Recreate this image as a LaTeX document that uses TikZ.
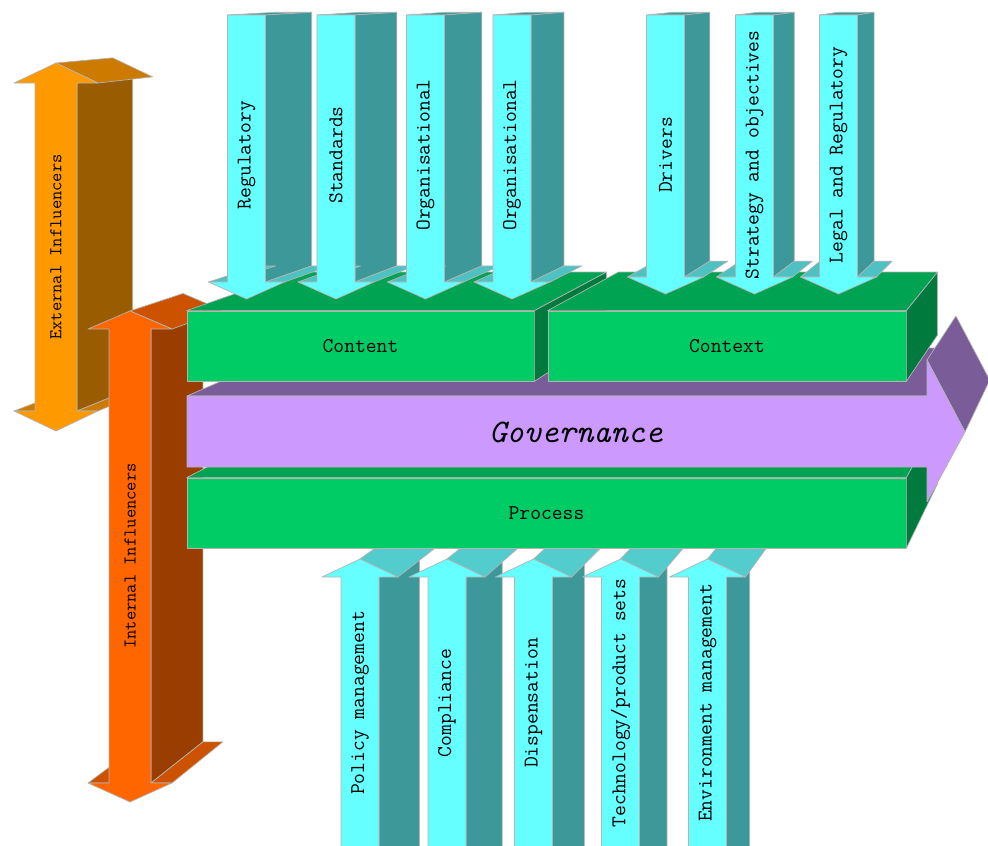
\documentclass[tikz,border=0pt]{standalone}
\usepackage{fontspec}
\usepackage{tikz}
\usetikzlibrary{calc}
\definecolor{cyanfront}{HTML}{66FFFF}
\definecolor{cyanside}{HTML}{3D9999}
\definecolor{cyantop}{HTML}{52CCCC}
\definecolor{greenfront}{HTML}{00CC66}
\definecolor{greentop}{HTML}{00A352}
\definecolor{greenside}{HTML}{007A3D}
\definecolor{govfront}{HTML}{CC99FF}
\definecolor{govtop}{HTML}{7A5C99}
\definecolor{extfront}{HTML}{FF9900}
\definecolor{extside}{HTML}{995C00}
\definecolor{exttop}{HTML}{CC7A00}
\definecolor{intfront}{HTML}{FF6600}
\definecolor{intside}{HTML}{993D00}
\definecolor{inttop}{HTML}{CC5200}
\definecolor{edgegray}{HTML}{B3B3B3}
\def\sw{19}\def\hw{38}\def\ow{21}\def\oh{42}
\def\ka{0.05}\def\kb{0.11}
% cyan arrow pointing down onto Content / Context
\newcommand{\downarr}[5]{%
  \coordinate (A) at ({#1-\sw},15); \coordinate (B) at ({#1+\sw},15);
  \coordinate (C) at ({#1+\sw},#2); \coordinate (D) at ({#1+\hw},#2);
  \coordinate (E) at ({#1-\hw},#2); \coordinate (F) at ({#1-\sw},#2);
  \coordinate (T) at (#1,#3);
  \path[face, fill=cyanside] (A) -- (B) -- ($(B)!\ka!(vp)$) -- ($(A)!\ka!(vp)$) -- cycle;
  \path[face, fill=cyanside] (B) -- (C) -- ($(C)!\ka!(vp)$) -- ($(B)!\ka!(vp)$) -- cycle;
  \path[face, fill=cyantop!80!cyanside] (E) -- (F) -- ($(F)!\ka!(vp)$) -- ($(E)!\ka!(vp)$) -- cycle;
  \path[face, fill=cyantop!80!cyanside] (C) -- (D) -- ($(D)!\ka!(vp)$) -- ($(C)!\ka!(vp)$) -- cycle;
  \path[face, fill=cyanfront] (A) -- (B) -- (C) -- (D) -- (T) -- (E) -- (F) -- cycle;
  \node[lbl, rotate=90] (#4) at (#1,155) {#5};
}
% cyan arrow pointing up into Process
\newcommand{\uparr}[3]{%
  \coordinate (C) at ({#1+\sw},577); \coordinate (G) at ({#1+\sw},900);
  \coordinate (D) at ({#1+\hw},577); \coordinate (T) at (#1,559);
  \path[face, fill=cyanside] (C) -- (G) -- ($(G)!\ka!(vp)$) -- ($(C)!\ka!(vp)$) -- cycle;
  \path[face, fill=cyantop] (T) -- (D) -- ($(D)!\ka!(vp)$) -- ($(T)!\ka!(vp)$) -- cycle;
  \path[face, fill=cyanfront] (T) -- (D) -- (C) -- (G) -- ({#1-\sw},900) -- ({#1-\sw},577)
    -- ({#1-\hw},577) -- cycle;
  \node[lbl, rotate=90] (#2) at (#1,703) {#3};
}
% double headed influencer arrow
\newcommand{\dblarr}[9]{%
  \coordinate (T) at (#1,#2); \coordinate (D) at ({#1+\oh},#3); \coordinate (C) at ({#1+\ow},#3);
  \coordinate (G) at ({#1+\ow},#4); \coordinate (H) at ({#1+\oh},#4);
  \coordinate (E) at ({#1-\oh},#4); \coordinate (F) at ({#1-\ow},#4);
  \path[face, fill=#6top] (E) -- (F) -- ($(F)!\ka!(vp)$) -- ($(E)!\ka!(vp)$) -- cycle;
  \path[face, fill=#6side] (C) -- (G) -- ($(G)!\ka!(vp)$) -- ($(C)!\ka!(vp)$) -- cycle;
  \path[face, fill=#6top] (G) -- (H) -- ($(H)!\ka!(vp)$) -- ($(G)!\ka!(vp)$) -- cycle;
  \path[face, fill=#6top] (T) -- (D) -- ($(D)!\ka!(vp)$) -- ($(T)!\ka!(vp)$) -- cycle;
  \path[face, fill=#6front] (T) -- (D) -- (C) -- (G) -- (H) -- (#1,#5) -- (E) -- (F)
    -- ({#1-\ow},#3) -- ({#1-\oh},#3) -- cycle;
  \node[inflbl, rotate=90] (#7) at (#1,#9) {#8};
}
% top and side of a green box
\newcommand{\boxfaces}[1]{%
  \path[face, fill=greentop] (#1.north west) -- (#1.north east) -- ($(#1.north east)!\kb!(vp)$)
    -- ($(#1.north west)!\kb!(vp)$) -- cycle;
  \path[face, fill=greenside] (#1.north east) -- (#1.south east) -- ($(#1.south east)!\kb!(vp)$)
    -- ($(#1.north east)!\kb!(vp)$) -- cycle;
}
\begin{document}
\begin{tikzpicture}[x=1pt, y=-1pt,
  face/.style={draw=edgegray, line width=0.7pt, line join=round},
  lbl/.style={font=\ttfamily\fontsize{21}{24}\selectfont, inner sep=0},
  inflbl/.style={font=\ttfamily\fontsize{18}{21}\selectfont, inner sep=0},
  boxfront/.style={face, fill=greenfront, inner sep=0, minimum height=70pt,
    font=\ttfamily\fontsize{21}{24}\selectfont},
]
  \useasboundingbox (0,0) rectangle (988,846);
  \clip (0,0) rectangle (988,846);
  \coordinate (vp) at (1190,-40);

  \dblarr{56}{63}{83}{411}{431}{ext}{ext}{External Influencers}{247}
  \dblarr{130}{311}{329}{783}{802}{int}{int}{Internal Influencers}{556}

  \uparr{360}{pol}{Policy management}
  \uparr{447}{comp}{Compliance}
  \uparr{533.5}{disp}{Dispensation}
  \uparr{620.5}{tech}{Technology/product sets}
  \uparr{707.5}{env}{Environment management}

  \node[boxfront, minimum width=719pt] (process) at (546.5,513) {Process};
  \boxfaces{process}

  \coordinate (g1) at (187,396); \coordinate (g2) at (927,396); \coordinate (g3) at (927,360);
  \coordinate (g4) at (965,432); \coordinate (g5) at (927,502); \coordinate (g6) at (927,467);
  \coordinate (g7) at (187,467);
  \path[face, fill=govtop] (g1) -- (g2) -- ($(g2)!\kb!(vp)$) -- ($(g1)!\kb!(vp)$) -- cycle;
  \path[face, fill=govtop] (g3) -- (g4) -- ($(g4)!\kb!(vp)$) -- ($(g3)!\kb!(vp)$) -- cycle;
  \path[face, fill=govfront] (g1) -- (g2) -- (g3) -- (g4) -- (g5) -- (g6) -- (g7) -- cycle;
  \node[font=\ttfamily\itshape\fontsize{33}{38}\selectfont, inner sep=0] (gov) at (576,432) {Governance};

  \node[boxfront, minimum width=347pt] (content) at (360.5,346) {Content};
  \boxfaces{content}
  \node[boxfront, minimum width=358pt] (context) at (727,346) {Context};
  \boxfaces{context}

  \downarr{246.5}{282}{299}{reg}{Regulatory}
  \downarr{336}{282}{299}{std}{Standards}
  \downarr{425.5}{282}{299}{org1}{Organisational}
  \downarr{512}{282}{299}{org2}{Organisational}
  \downarr{665.5}{277}{294}{drv}{Drivers}
  \downarr{754.5}{277}{294}{strat}{Strategy and objectives}
  \downarr{838.5}{277}{294}{legal}{Legal and Regulatory}
\end{tikzpicture}
\end{document}
